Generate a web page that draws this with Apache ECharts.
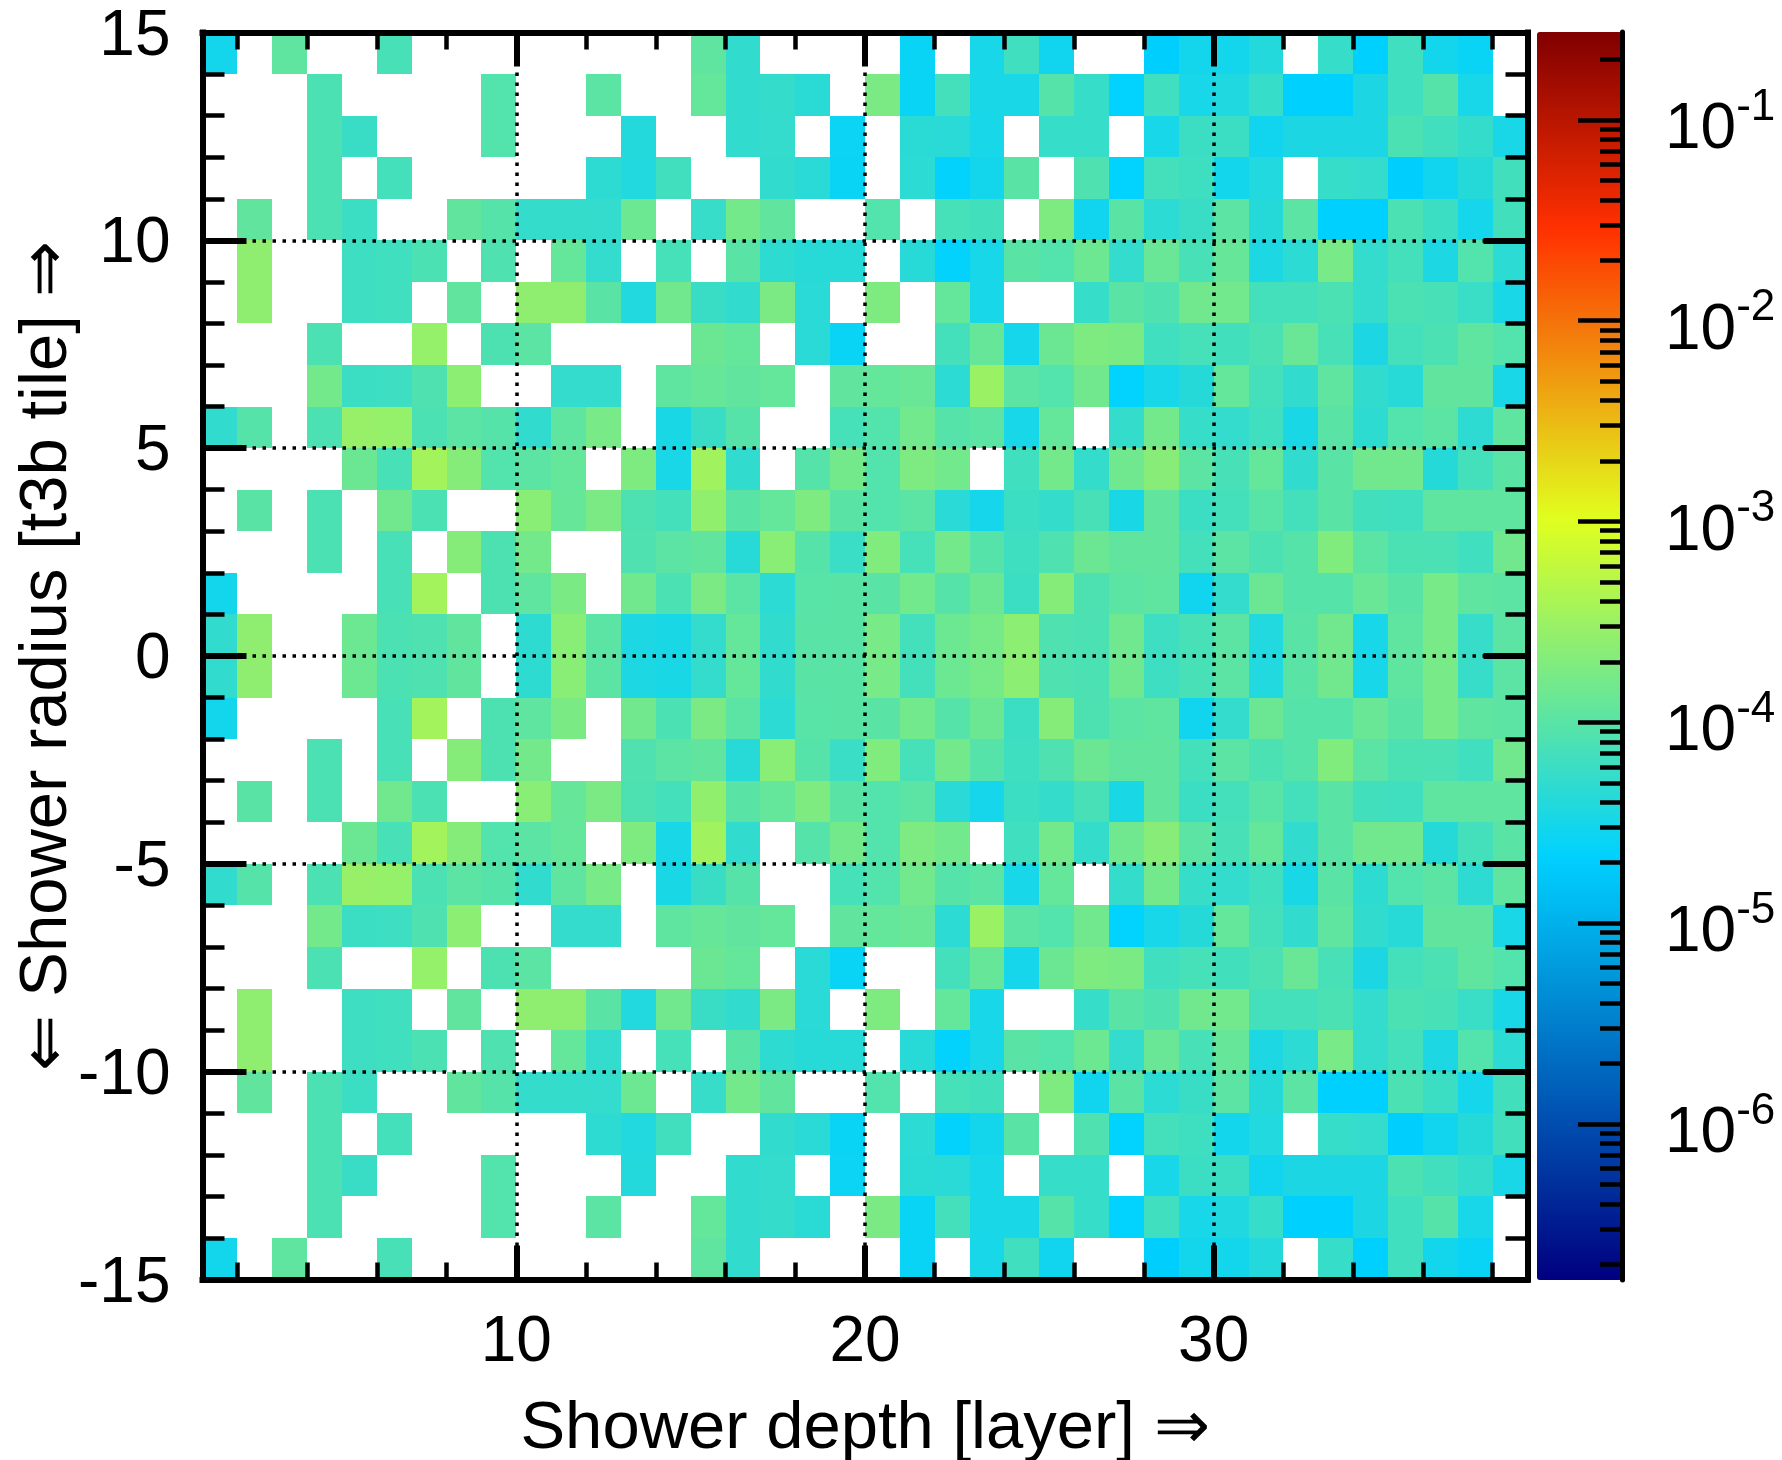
<!DOCTYPE html>
<html>
<head>
<meta charset="utf-8">
<script src="https://cdn.jsdelivr.net/npm/echarts@6/dist/echarts.min.js"></script>
<style>html,body{margin:0;padding:0;background:#fff}#c{width:1782px;height:1460px}</style>
</head>
<body>
<div id="c"></div>
<script>
const _ = null;
// cell values in units of 1e-5, layers 1..38, one array per tile row
const row_p14 = [3,_,11,_,_,7.5,_,_,_,_,_,_,_,_,11,5,_,_,_,_,2.5,_,3.2,6.5,2.9,_,_,2,3,3,4,_,5.5,2.1,6.5,3,2.5,_];
const row_p13 = [_,_,_,8,_,_,_,_,9,_,_,10.5,_,_,12,5,5.3,4.5,_,18,2.5,7,3.3,3.3,9.5,5.5,2.2,6.5,3.2,3.7,5.5,2.1,2.1,3.5,6.5,9.5,3.2,_];
const row_p12 = [_,_,_,8,5.7,_,_,_,9,_,_,_,3.9,_,_,5,5.2,_,2.6,_,4.5,4.4,3.2,_,5.5,5.5,_,3.2,6,6,2.9,3.5,3.5,3.5,8,6.7,5.3,3.3];
const row_p11 = [_,_,_,8,_,7,_,_,_,_,_,4.7,3.8,6.7,_,_,5,4.4,2.5,_,4.6,2.3,3,10,_,8.5,2.2,7,6.3,3,3.8,_,5.5,5.2,2,2.9,4.2,6.8];
const row_p10 = [_,11.5,_,8,6,_,_,11.5,9.5,5.3,5.3,5.2,14,_,5.6,16,11.5,_,_,9,_,7.2,6.8,_,19,2.9,10,4.6,5.7,10.5,4.2,10.5,2.1,2.1,8,6,3.1,6.8];
const row_p9  = [_,25,_,_,6.2,6.5,8,_,8.5,_,12,5.2,_,7.2,_,10,4.8,4.3,4.3,_,4.3,2.3,3.2,10,9,14,5.2,13,7.5,12.5,3.6,4.6,17,5.2,7,3.6,9,4.6];
const row_p8  = [_,25,_,_,6.2,6.5,_,11.5,_,25,25,10,3.8,15,5.7,5,18,4.4,_,19,_,12,3.2,_,_,5.5,10,8.5,15,15.5,7,7,8,5.2,8,7.5,5.8,3.3];
const row_p7  = [_,_,_,8,_,_,28,_,8.2,10.5,_,_,_,_,13.5,12,_,4.4,2.5,_,_,7,12.5,3.1,13.5,19,17.5,6.5,7.2,6.8,8,13,7.5,3.5,7,8,11,9];
const row_p6  = [_,_,_,16,6,6.2,8.5,24,_,_,5.2,5.2,_,11,12.5,11.5,12,_,11.5,12,13,4.6,31,10.5,9,15,2.2,3.2,4.2,12,7,5,11,5,4.3,11.5,11.5,3.3];
const row_p5  = [5,9.5,_,8,29,28,8,10.5,9.5,5,11,17,_,3.4,5.7,9.5,_,_,7.2,9,15.5,9.5,10.5,3.2,12,_,5.3,16,5.5,5.2,6.5,3.4,10,4.8,9,10.5,4.7,11];
const row_p4  = [_,_,_,_,13.5,7.5,36,21,9,10.5,12,_,19,3.3,34,5,_,9.5,16,9,18.5,15.5,_,6.5,16,5.3,14.5,22,10.5,7.5,12,5,10,15,15,4.2,7,10];
const row_p3  = [_,10,_,8,_,15,8,_,_,23,12.5,18,8.2,7,26,10,12,19,10,9,10.5,4.4,3.1,6,5.3,7.5,3.4,11.5,6,7,9.8,7,10,6.8,6.5,11,11,11];
const row_p2  = [_,_,_,8,_,7.5,_,21,8.2,16,_,_,8.5,10.5,11.5,4.3,23,9.5,5.8,20,7.2,16,9.5,6.3,8.5,13.5,11.5,11.5,7,10.5,8,9.5,20,10.5,8,7.8,6.5,15];
const row_p1  = [3,_,_,_,_,7.5,36,_,8.2,11,17.5,_,15,8,18,10.5,4.6,9.8,10,10,15.5,9.5,13.5,6,21,8.2,10.5,11,2.9,5.2,13.5,9.5,9.5,13,10,17,11,10.5];
const row_p0  = [5,25,_,_,14,8,8.5,11.5,_,4.8,23,10.5,3.6,3.4,5.2,12,5,10,10,17,7,14,16.5,24,8.5,8,14.5,6.2,7.5,10.5,3.8,10,15,3.2,11,17,5.6,10.5];
const row_m1  = [5,25,_,_,14,8,8.5,11.5,_,4.8,23,10.5,3.6,3.4,5.2,12,5,10,10,17,7,14,16.5,24,8.5,8,14.5,6.2,7.5,10.5,3.8,10,15,3.2,11,17,5.6,10.5];
const row_m2  = [3,_,_,_,_,7.5,36,_,8.2,11,17.5,_,15,8,18,10.5,4.6,9.8,10,10,15.5,9.5,13.5,6,21,8.2,10.5,11,2.9,5.2,13.5,9.5,9.5,13,10,17,11,10.5];
const row_m3  = [_,_,_,8,_,7.5,_,21,8.2,16,_,_,8.5,10.5,11.5,4.3,23,9.5,5.8,20,7.2,16,9.5,6.3,8.5,13.5,11.5,11.5,7,10.5,8,9.5,20,10.5,8,7.8,6.5,15];
const row_m4  = [_,10,_,8,_,15,8,_,_,23,12.5,18,8.2,7,26,10,12,19,10,9,10.5,4.4,3.1,6,5.3,7.5,3.4,11.5,6,7,9.8,7,10,6.8,6.5,11,11,11];
const row_m5  = [_,_,_,_,13.5,7.5,36,21,9,10.5,12,_,19,3.3,34,5,_,9.5,16,9,18.5,15.5,_,6.5,16,5.3,14.5,22,10.5,7.5,12,5,10,15,15,4.2,7,10];
const row_m6  = [5,9.5,_,8,29,28,8,10.5,9.5,5,11,17,_,3.4,5.7,9.5,_,_,7.2,9,15.5,9.5,10.5,3.2,12,_,5.3,16,5.5,5.2,6.5,3.4,10,4.8,9,10.5,4.7,11];
const row_m7  = [_,_,_,16,6,6.2,8.5,24,_,_,5.2,5.2,_,11,12.5,11.5,12,_,11.5,12,13,4.6,31,10.5,9,15,2.2,3.2,4.2,12,7,5,11,5,4.3,11.5,11.5,3.3];
const row_m8  = [_,_,_,8,_,_,28,_,8.2,10.5,_,_,_,_,13.5,12,_,4.4,2.5,_,_,7,12.5,3.1,13.5,19,17.5,6.5,7.2,6.8,8,13,7.5,3.5,7,8,11,9];
const row_m9  = [_,25,_,_,6.2,6.5,_,11.5,_,25,25,10,3.8,15,5.7,5,18,4.4,_,19,_,12,3.2,_,_,5.5,10,8.5,15,15.5,7,7,8,5.2,8,7.5,5.8,3.3];
const row_m10 = [_,25,_,_,6.2,6.5,8,_,8.5,_,12,5.2,_,7.2,_,10,4.8,4.3,4.3,_,4.3,2.3,3.2,10,9,14,5.2,13,7.5,12.5,3.6,4.6,17,5.2,7,3.6,9,4.6];
const row_m11 = [_,11.5,_,8,6,_,_,11.5,9.5,5.3,5.3,5.2,14,_,5.6,16,11.5,_,_,9,_,7.2,6.8,_,19,2.9,10,4.6,5.7,10.5,4.2,10.5,2.1,2.1,8,6,3.1,6.8];
const row_m12 = [_,_,_,8,_,7,_,_,_,_,_,4.7,3.8,6.7,_,_,5,4.4,2.5,_,4.6,2.3,3,10,_,8.5,2.2,7,6.3,3,3.8,_,5.5,5.2,2,2.9,4.2,6.8];
const row_m13 = [_,_,_,8,5.7,_,_,_,9,_,_,_,3.9,_,_,5,5.2,_,2.6,_,4.5,4.4,3.2,_,5.5,5.5,_,3.2,6,6,2.9,3.5,3.5,3.5,8,6.7,5.3,3.3];
const row_m14 = [_,_,_,8,_,_,_,_,9,_,_,10.5,_,_,12,5,5.3,4.5,_,18,2.5,7,3.3,3.3,9.5,5.5,2.2,6.5,3.2,3.7,5.5,2.1,2.1,3.5,6.5,9.5,3.2,_];
const row_m15 = [3,_,11,_,_,7.5,_,_,_,_,_,_,_,_,11,5,_,_,_,_,2.5,_,3.2,6.5,2.9,_,_,2,3,3,4,_,5.5,2.1,6.5,3,2.5,_];

const rows = [row_p14,row_p13,row_p12,row_p11,row_p10,row_p9,row_p8,row_p7,row_p6,row_p5,row_p4,row_p3,row_p2,row_p1,row_p0,
              row_m1,row_m2,row_m3,row_m4,row_m5,row_m6,row_m7,row_m8,row_m9,row_m10,row_m11,row_m12,row_m13,row_m14,row_m15];
const rowLow = [14,13,12,11,10,9,8,7,6,5,4,3,2,1,0,-1,-2,-3,-4,-5,-6,-7,-8,-9,-10,-11,-12,-13,-14,-15];
const firstLayer = 1;
const valueUnit = 1e-5;

const xMajorTicks = [10,20,30];
const xMinorTicks = [2,4,6,8,12,14,16,18,22,24,26,28,32,34,36,38];
const yMajorTicks = [-15,-10,-5,0,5,10,15];
const yMinorTicks = [-14,-13,-12,-11,-9,-8,-7,-6,-4,-3,-2,-1,1,2,3,4,6,7,8,9,11,12,13,14];
const barMajorExp = [-6,-5,-4,-3,-2,-1];
const barMinorValues = [2e-7,3e-7,4e-7,5e-7,6e-7,7e-7,8e-7,9e-7,
  2e-6,3e-6,4e-6,5e-6,6e-6,7e-6,8e-6,9e-6,
  2e-5,3e-5,4e-5,5e-5,6e-5,7e-5,8e-5,9e-5,
  2e-4,3e-4,4e-4,5e-4,6e-4,7e-4,8e-4,9e-4,
  2e-3,3e-3,4e-3,5e-3,6e-3,7e-3,8e-3,9e-3,
  2e-2,3e-2,4e-2,5e-2,6e-2,7e-2,8e-2,9e-2,0.2];
const barMin = 1.67e-7, barMax = 0.274;
const stopPos = [0,0.34,0.61,0.843,1];
const stopRGB = [[0,0,128],[0,210,255],[225,255,30],[255,48,0],[128,0,0]];

const logMin = Math.log10(barMin), logMax = Math.log10(barMax);

const palette = [];
for (let i = 0; i <= 255; i++) {
  const t = i / 255;
  let k = 0;
  while (k < stopPos.length - 2 && t > stopPos[k + 1]) k++;
  const f = (t - stopPos[k]) / (stopPos[k + 1] - stopPos[k]);
  const c = stopRGB[k].map((a, j) => Math.round(a + (stopRGB[k + 1][j] - a) * f));
  palette.push('rgb(' + c.join(',') + ')');
}

const cells = [];
rows.forEach((r, i) => r.forEach((v, j) => {
  if (v !== null) cells.push([firstLayer + j, rowLow[i], Math.log10(v * valueUnit)]);
}));

const FONT = '"Liberation Sans", Arial, sans-serif';
const black = '#000';
const dotted = { show: true, lineStyle: { color: black, width: 3.5, type: [3.5, 6.5] } };

function xAxisOf(position, major, extra) {
  return Object.assign({
    type: 'value', gridIndex: 0, position, min: 1, max: 39, z: 6,
    axisLine: { show: major, onZero: false, lineStyle: { color: black, width: 6, cap: 'square' } },
    axisTick: { show: true, inside: true, length: major ? 34 : 17, customValues: major ? xMajorTicks : xMinorTicks,
      lineStyle: { color: black, width: major ? 6 : 4.5 } },
    axisLabel: { show: false }, splitLine: { show: false }
  }, extra || {});
}
function yAxisOf(position, major, extra) {
  return Object.assign({
    type: 'value', gridIndex: 0, position, min: -15, max: 15, z: 6,
    axisLine: { show: major, onZero: false, lineStyle: { color: black, width: 6, cap: 'square' } },
    axisTick: { show: true, inside: true, length: major ? 44 : 22, customValues: major ? yMajorTicks : yMinorTicks,
      lineStyle: { color: black, width: major ? 6 : 4.5 } },
    axisLabel: { show: false }, splitLine: { show: false }
  }, extra || {});
}

const chart = echarts.init(document.getElementById('c'), null, { renderer: 'canvas', width: 1782, height: 1460 });
chart.setOption({
  animation: false,
  backgroundColor: '#fff',
  textStyle: { fontFamily: FONT },
  grid: [
    { left: 202.5, top: 32.5, width: 1325, height: 1247, containLabel: false, outerBoundsMode: 'none' },
    { left: 1537, top: 32, width: 85, height: 1248, containLabel: false, outerBoundsMode: 'none' }
  ],
  visualMap: {
    type: 'continuous', seriesIndex: 0, dimension: 2, min: logMin, max: logMax,
    inRange: { color: palette }, calculable: false, realtime: false, hoverLink: false,
    left: 1537, top: 32, itemWidth: 85, itemHeight: 1248, padding: 0, text: null, orient: 'vertical'
  },
  xAxis: [
    xAxisOf('bottom', true, {
      axisLabel: { show: true, customValues: xMajorTicks, color: black, fontSize: 64, fontFamily: FONT, margin: 32 },
      splitLine: dotted,
      name: 'Shower depth [layer] \u21D2', nameLocation: 'middle', nameGap: 117, nameMoveOverlap: false,
      nameTextStyle: { color: black, fontSize: 67, fontFamily: FONT }
    }),
    xAxisOf('bottom', false),
    xAxisOf('top', true),
    xAxisOf('top', false),
    { type: 'value', gridIndex: 1, min: 0, max: 1, show: false }
  ],
  yAxis: [
    yAxisOf('left', true, {
      axisLabel: { show: true, customValues: yMajorTicks, color: black, fontFamily: FONT, margin: 32,
        formatter: v => '{a|' + v + '}',
        rich: { a: { fontSize: 64, lineHeight: 64, fontFamily: FONT, color: black, padding: [9, 0, 0, 0] } }
      },
      splitLine: dotted,
      name: '\u21D0 Shower radius [t3b tile] \u21D2', nameLocation: 'middle', nameGap: 121, nameRotate: 90, nameMoveOverlap: false,
      nameTextStyle: { color: black, fontSize: 67, fontFamily: FONT }
    }),
    yAxisOf('left', false),
    yAxisOf('right', true),
    yAxisOf('right', false),
    {
      type: 'value', gridIndex: 1, position: 'right', min: logMin, max: logMax, z: 6,
      axisLine: { show: true, onZero: false, lineStyle: { color: black, width: 5 } },
      axisTick: { show: true, inside: true, length: 44, customValues: barMajorExp, lineStyle: { color: black, width: 4.5 } },
      axisLabel: {
        show: true, customValues: barMajorExp, margin: 43, color: black, fontFamily: FONT, padding: [21, 0, 0, 0],
        formatter: v => '{b|10}{s|' + v + '}',
        rich: {
          b: { fontSize: 64, lineHeight: 64, fontFamily: FONT, color: black, verticalAlign: 'bottom' },
          s: { fontSize: 44, lineHeight: 44, fontFamily: FONT, color: black, verticalAlign: 'bottom', padding: [0, 0, 33, 0] }
        }
      },
      splitLine: { show: false }
    },
    {
      type: 'value', gridIndex: 1, position: 'right', min: logMin, max: logMax, z: 6,
      axisLine: { show: false, onZero: false },
      axisTick: { show: true, inside: true, length: 22, customValues: barMinorValues.map(Math.log10), lineStyle: { color: black, width: 4.5 } },
      axisLabel: { show: false }, splitLine: { show: false }
    }
  ],
  series: [{
    type: 'custom', xAxisIndex: 0, yAxisIndex: 0, z: 2, silent: true,
    data: cells, encode: { x: 0, y: 1 }, clip: true,
    renderItem: function (params, api) {
      const x = api.value(0), y = api.value(1);
      const a = api.coord([x, y + 1]), b = api.coord([x + 1, y]);
      const x0 = Math.round(a[0]), y0 = Math.round(a[1]);
      return {
        type: 'rect',
        shape: { x: x0, y: y0, width: Math.round(b[0]) - x0, height: Math.round(b[1]) - y0 },
        style: { fill: api.visual('color') }
      };
    }
  }]
});
</script>
</body>
</html>
